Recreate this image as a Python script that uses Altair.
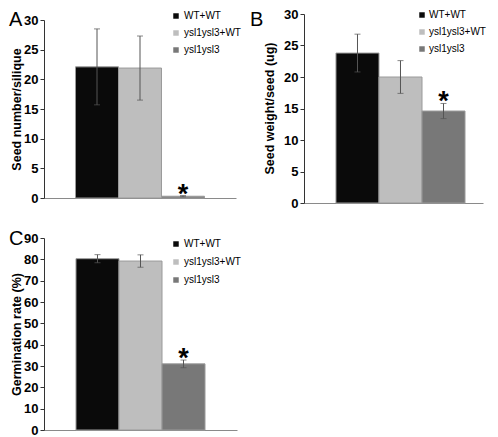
import altair as alt
import pandas as pd

# ---------------- data ----------------
groups = ["WT+WT", "ysl1ysl3+WT", "ysl1ysl3"]
bar_colors = ["#0a0a0a", "#bebebe", "#787878"]

seed_number = [22.1, 21.9, 0.3]
seed_number_sd = [6.4, 5.4, 0.1]

seed_weight = [23.8, 20.0, 14.6]
seed_weight_sd = [3.0, 2.6, 1.2]

germination = [80.3, 79.2, 31.0]
germination_sd = [1.9, 2.9, 1.8]

significant = [False, False, True]

panel_letters = ["A", "B", "C"]
y_titles = ["Seed number/silique", "Seed weight/seed (ug)", "Germination rate (%)"]
y_ticks_ab = [0, 5, 10, 15, 20, 25, 30]
y_ticks_c = [0, 10, 20, 30, 40, 50, 60, 70, 80, 90]

FONT = "Liberation Sans, Arial, Helvetica, sans-serif"
W, H = 482, 429

layouts = [
    dict(x_range=[36, 228], pad_outer=0.733, align=0.5, y_range=[190, 12], y_off=-36,
         title_xy=(-28, 101), legend=(163, 3), row_pad=7, label_off=3, letter=(1, 2)),
    dict(x_range=[296, 475], pad_outer=0.581, align=0.64, y_range=[195, 6], y_off=-296,
         title_xy=(-35, 100), legend=(409, 2), row_pad=7, label_off=2, letter=(242, 2)),
    dict(x_range=[36, 229], pad_outer=0.744, align=0.5, y_range=[422, 230], y_off=-36,
         title_xy=(-28, 326), legend=(163, 231), row_pad=8, label_off=3, letter=(1, 221)),
]


def panel(idx, values, sds, ticks, y_max):
    lay = layouts[idx]
    df = pd.DataFrame({
        "group": groups,
        "value": values,
        "sd": sds,
        "star": ["*" if s else "" for s in significant],
    })
    df["lo"] = df["value"] - df["sd"]
    df["hi"] = df["value"] + df["sd"]
    base = alt.Chart(df)

    xenc = alt.X(
        "group:N", sort=groups,
        scale=alt.Scale(domain=groups, range=lay["x_range"], align=lay["align"],
                        paddingInner=0, paddingOuter=lay["pad_outer"]),
        axis=alt.Axis(orient="bottom", offset=lay["y_range"][0] - H,
                      labels=False, ticks=False, title=None, grid=False,
                      domainColor="#8a8a8a", domainWidth=1),
    )
    yscale = alt.Scale(domain=[0, y_max], range=lay["y_range"], nice=False, zero=True)
    yaxis = alt.Axis(
        orient="left", offset=lay["y_off"], values=ticks, grid=False,
        tickSize=4, tickColor="#333", domainColor="#333", labelPadding=2,
        labelFont=FONT, labelFontSize=13, labelFontWeight="bold", labelColor="black",
        titleFont=FONT, titleFontSize=12.5, titleFontWeight="bold", titleColor="black",
        titleAngle=270, titleAlign="center", titleBaseline="middle",
        titleX=lay["title_xy"][0], titleY=lay["title_xy"][1],
    )

    def yenc(field):
        return alt.Y(f"{field}:Q", scale=yscale, axis=yaxis, title=y_titles[idx])

    bars = base.mark_bar(stroke="#9a9a9a", strokeWidth=1).encode(
        x=xenc, y=yenc("value"),
        color=alt.Color(
            "group:N",
            scale=alt.Scale(domain=groups, range=bar_colors),
            legend=alt.Legend(
                orient="none", legendX=lay["legend"][0], legendY=lay["legend"][1],
                title=None, symbolType="square", symbolSize=30, symbolStrokeWidth=0,
                labelFont=FONT, labelFontSize=10, labelColor="black",
                labelOffset=lay["label_off"], rowPadding=lay["row_pad"], padding=0,
            ),
        ),
    )
    err = base.mark_rule(color="#555", strokeWidth=1).encode(
        x=xenc, y=yenc("lo"), y2="hi:Q")
    cap_lo = base.mark_tick(color="#555", thickness=1, size=6).encode(
        x=xenc, y=yenc("lo"))
    cap_hi = base.mark_tick(color="#555", thickness=1, size=6).encode(
        x=xenc, y=yenc("hi"))
    star = base.mark_text(font=FONT, fontSize=27, fontWeight="bold",
                          baseline="alphabetic", align="center", dy=7,
                          color="black").encode(
        x=xenc, y=yenc("hi"), text="star:N")
    letter = alt.Chart(pd.DataFrame({"t": [panel_letters[idx]]})).mark_text(
        font=FONT, fontSize=20, align="left", baseline="top", color="black"
    ).encode(text="t:N", x=alt.value(lay["letter"][0]), y=alt.value(lay["letter"][1]))

    return alt.layer(bars, err, cap_lo, cap_hi, star, letter)


pA = panel(0, seed_number, seed_number_sd, y_ticks_ab, 30)
pB = panel(1, seed_weight, seed_weight_sd, y_ticks_ab, 30)
pC = panel(2, germination, germination_sd, y_ticks_c, 90)

chart = alt.layer(pA, pB, pC).resolve_scale(
    x="independent", y="independent", color="independent"
).properties(
    width=W, height=H, padding=0,
    autosize=alt.AutoSizeParams(type="none"),
    background="white",
).configure_view(stroke=None)

chart.save("out.html", embed_options={"renderer": "svg", "actions": False})
